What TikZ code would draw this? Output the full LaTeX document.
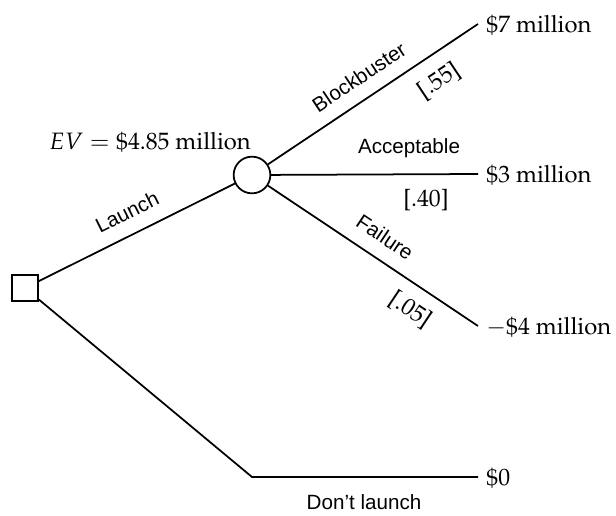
\documentclass[tikz,border=0pt]{standalone}
\usepackage{mathpazo}
\usepackage[no-math]{fontspec}
\newfontfamily\labfont{Liberation Sans}
\newcommand\palfont{\fontencoding{OT1}\fontfamily{ppl}\fontsize{11.5}{13}\selectfont}
\begin{document}
\begin{tikzpicture}[x=0.485pt,y=-0.485pt,
  branch/.style={line width=0.85pt},
  decision/.style={draw,line width=0.85pt,rectangle,minimum size=12.6pt,inner sep=0pt},
  chance/.style={draw,line width=0.85pt,circle,minimum size=17.8pt,inner sep=0pt},
  payoff/.style={anchor=west,inner sep=0pt,font=\palfont},
  prob/.style={inner sep=0pt,font=\palfont},
  lab/.style={inner sep=0pt,font=\labfont\fontsize{10}{12}\selectfont}]
\useasboundingbox (0,0) rectangle (616,515);
% decision and chance nodes, branch end points
\node[decision] (dec) at (25,288) {};
\node[chance] (ch) at (252,175) {};
\coordinate (eB) at (478,24);
\coordinate (eA) at (478,174);
\coordinate (eF) at (478,326);
\coordinate (turn) at (252,477);
\coordinate (e0) at (478,477);
% branches
\draw[branch] (dec) -- (ch);
\draw[branch] (ch) -- (eB);
\draw[branch] (ch) -- (eA);
\draw[branch] (ch) -- (eF);
\draw[branch] (dec) -- (turn) -- (e0);
% payoffs
\node[payoff] (pB) at (486,25) {\$7 million};
\node[payoff] (pA) at (486,175) {\$3 million};
\node[payoff] (pF) at (486,327) {$-$\$4 million};
\node[payoff] (p0) at (486,478) {\$0};
\node[prob] (ev) at (150,142) {$EV = {}$\$4.85 million};
% branch labels and probabilities
\node[lab,rotate=26.6] (lL) at (127,212) {Launch};
\node[lab,rotate=33.7] (lB) at (359,77) {Blockbuster};
\node[prob,rotate=33.7] (qB) at (439,81) {[.55]};
\node[lab] (lA) at (409,148) {Acceptable};
\node[prob] (qA) at (426,200) {[.40]};
\node[lab,rotate=-33.7] (lF) at (385,237) {Failure};
\node[prob,rotate=-33.7] (qF) at (410,310) {[.05]};
\node[lab] (l0) at (364,502) {Don’t launch};
\end{tikzpicture}
\end{document}
